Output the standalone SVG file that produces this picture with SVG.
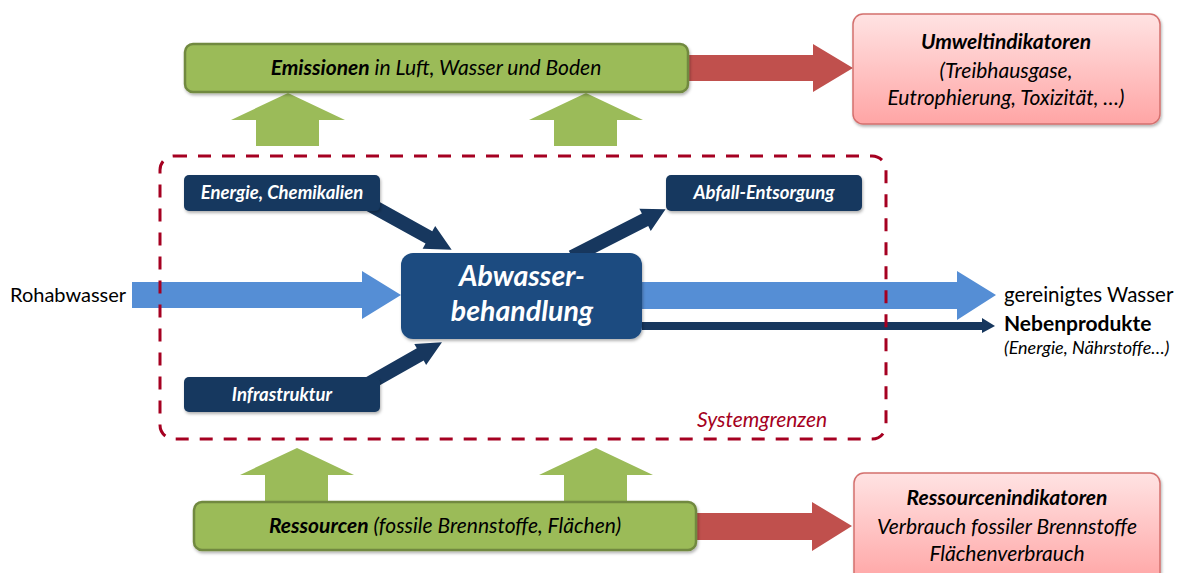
<svg xmlns="http://www.w3.org/2000/svg" width="1181" height="573" viewBox="0 0 1181 573">
<defs>
<linearGradient id="pink" x1="0" y1="0" x2="0" y2="1">
<stop offset="0" stop-color="#FFE3E3"/>
<stop offset="1" stop-color="#FFA5A5"/>
</linearGradient>
<filter id="sh" x="-10%" y="-10%" width="130%" height="140%">
<feDropShadow dx="1" dy="2" stdDeviation="1.5" flood-color="#000" flood-opacity="0.3"/>
</filter>
<style>
text{font-family:Lato,"Liberation Sans",sans-serif;}
.green{fill:#9BBB59;stroke:#71893F;stroke-width:2.5;}
.pinkbox{fill:url(#pink);stroke:#D4706E;stroke-width:1.5;}
.navy{fill:#17375E;}
.main{fill:#1D4C80;}
.blue{fill:#558ED5;}
.red{fill:#C0504D;}
.garrow{fill:#9BBB59;}
.t{font-size:21px;fill:#000;}
.ti{font-size:21px;fill:#000;font-style:italic;}
.small{font-size:18px;fill:#000;font-style:italic;}
.wt{font-size:18.5px;fill:#fff;font-style:italic;font-weight:bold;}
.big{font-size:28.5px;fill:#fff;font-style:italic;font-weight:bold;}
.sys{fill:none;stroke:#A50021;stroke-width:3;stroke-dasharray:13 11;}
</style>
</defs>

<g id="connectors">
<polygon class="red" points="688,55 813,55 813,44 853,68 813,92 813,81 688,81"/>
<polygon class="garrow" points="256,146 256,120 231,120 288,93 345,120 319,120 319,146"/>
<polygon class="garrow" points="554,146 554,120 529,120 586,93 643,120 617,120 617,146"/>
<polygon class="garrow" points="265,502 265,475 240,475 297,448 354,475 328,475 328,502"/>
<polygon class="garrow" points="564,502 564,475 539,475 596,448 653,475 627,475 627,502"/>
<polygon class="red" points="696,513 812,513 812,502 852,526 812,551 812,540 696,540"/>
<polygon class="blue" points="132,282 362,282 362,271 401,295 362,319 362,308 132,308"/>
<polygon class="blue" points="642,282 957,282 957,271 996,295 957,320 957,309 642,309"/>
<polygon class="navy" points="642,322 982,322 982,318 995,326 982,333 982,330 642,330"/>
<polygon class="navy" transform="translate(365,202) rotate(28.9)" points="0,-7 73,-7 73,-13 99,0 73,13 73,7 0,7"/>
<polygon class="navy" transform="translate(572,257) rotate(-27)" points="0,-7 82,-7 82,-12.5 105,0 82,12.5 82,7 0,7"/>
<polygon class="navy" transform="translate(368,384) rotate(-29.5)" points="0,-7 60,-7 60,-12 85,0 60,12 60,7 0,7"/>
</g>

<g id="systemgrenzen">
<rect class="sys" x="160" y="156" width="726" height="283" rx="14"/>
<text x="697" y="427" font-size="21" font-style="italic" fill="#A50021">Systemgrenzen</text>
</g>

<g id="emissionen">
<rect class="green" x="185" y="44" width="503" height="48" rx="8" filter="url(#sh)"/>
<text class="t" x="436" y="75" text-anchor="middle"><tspan font-weight="bold" font-style="italic">Emissionen</tspan><tspan font-style="italic">  in Luft, Wasser und Boden</tspan></text>
</g>

<g id="umweltindikatoren">
<rect class="pinkbox" x="853" y="14" width="307" height="110" rx="10" filter="url(#sh)"/>
<text class="t" x="1006" y="49" text-anchor="middle" font-weight="bold" font-style="italic">Umweltindikatoren</text>
<text class="ti" x="1006" y="78" text-anchor="middle">(Treibhausgase,</text>
<text class="ti" x="1006" y="105" text-anchor="middle">Eutrophierung, Toxizität, …)</text>
</g>

<g id="energie">
<rect class="navy" x="184" y="175" width="196" height="36" rx="5" filter="url(#sh)"/>
<text class="wt" x="282" y="199" text-anchor="middle">Energie, Chemikalien</text>
</g>

<g id="abfall">
<rect class="navy" x="666" y="175" width="196" height="36" rx="5" filter="url(#sh)"/>
<text class="wt" x="764" y="199" text-anchor="middle">Abfall-Entsorgung</text>
</g>

<g id="infrastruktur">
<rect class="navy" x="184" y="377" width="196" height="35" rx="5" filter="url(#sh)"/>
<text class="wt" x="282" y="401" text-anchor="middle">Infrastruktur</text>
</g>

<g id="abwasserbehandlung">
<rect class="main" x="401" y="253" width="241" height="86" rx="12" filter="url(#sh)"/>
<text class="big" x="522" y="286" text-anchor="middle">Abwasser-</text>
<text class="big" x="522" y="321" text-anchor="middle">behandlung</text>
</g>

<g id="rohabwasser">
<text x="10" y="302" style="font-size:20px;fill:#000">Rohabwasser</text>
</g>

<g id="gereinigtes">
<text x="1004" y="302" style="font-size:20.5px;fill:#000">gereinigtes Wasser</text>
</g>

<g id="nebenprodukte">
<text class="t" x="1004" y="331" font-weight="bold">Nebenprodukte</text>
<text class="small" x="1004" y="354">(Energie, Nährstoffe…)</text>
</g>

<g id="ressourcen">
<rect class="green" x="194" y="502" width="502" height="48" rx="8" filter="url(#sh)"/>
<text class="t" x="445" y="533" text-anchor="middle"><tspan font-weight="bold" font-style="italic">Ressourcen</tspan><tspan font-style="italic">  (fossile Brennstoffe, Flächen)</tspan></text>
</g>

<g id="ressourcenindikatoren">
<rect class="pinkbox" x="854" y="473" width="306" height="110" rx="10" filter="url(#sh)"/>
<text class="t" x="1007" y="505" text-anchor="middle" font-weight="bold" font-style="italic">Ressourcenindikatoren</text>
<text class="ti" x="1007" y="534" text-anchor="middle">Verbrauch fossiler Brennstoffe</text>
<text class="ti" x="1007" y="561" text-anchor="middle">Flächenverbrauch</text>
</g>
</svg>
